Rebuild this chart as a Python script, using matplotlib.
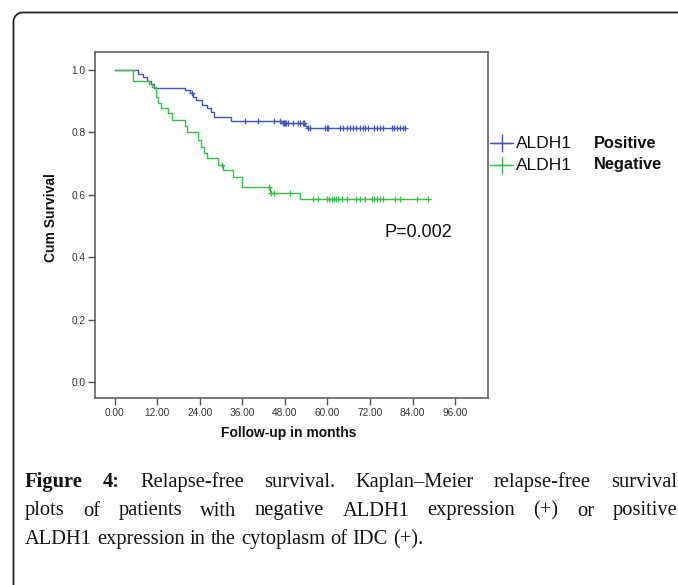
import numpy as np
import matplotlib
matplotlib.use("Agg")
import matplotlib.pyplot as plt
from matplotlib.lines import Line2D
from matplotlib.path import Path
from matplotlib.patches import PathPatch
from matplotlib.transforms import Affine2D

# ---------------- data ----------------
pos_times = [0, 6.5, 8.0, 9.0, 10.2, 11.0, 19.8, 21.2, 22.1, 23.0, 24.5, 25.9,
             27.0, 27.9, 32.7, 47.2, 53.6, 54.3]
pos_surv = [1.0, 0.989, 0.979, 0.966, 0.957, 0.944, 0.936, 0.925, 0.914, 0.904,
            0.888, 0.877, 0.866, 0.850, 0.838, 0.829, 0.821, 0.813]
pos_censor = [21.8, 36.7, 40.5, 44.9, 46.6, 47.5, 47.8, 48.1, 48.4, 48.9, 50.2,
              51.8, 52.2, 53.0, 53.4, 54.6, 55.1, 59.3, 59.8, 60.2, 63.5, 64.5,
              65.4, 66.3, 67.3, 68.0, 69.2, 70.1, 70.6, 71.5, 73.1, 73.9, 74.8,
              75.6, 78.1, 78.8, 79.5, 80.5, 81.4, 82.0]

neg_times = [0, 5.0, 9.7, 10.6, 11.5, 12.3, 13.0, 15.1, 16.2, 19.8, 20.4, 23.5,
             24.3, 25.2, 26.0, 29.2, 30.6, 33.4, 35.8, 43.9, 52.2]
neg_surv = [1.0, 0.966, 0.957, 0.946, 0.914, 0.896, 0.877, 0.861, 0.840, 0.821,
            0.802, 0.776, 0.754, 0.735, 0.717, 0.696, 0.679, 0.658, 0.626, 0.605,
            0.586]
neg_censor = [30.2, 43.6, 44.2, 44.8, 49.4, 55.8, 57.4, 59.8, 60.5, 61.2, 61.8,
              62.4, 63.1, 64.0, 65.4, 68.0, 69.2, 70.6, 72.5, 73.1, 73.9, 74.8,
              75.6, 79.1, 80.5, 85.2, 88.5]

x_ticks = [0, 12, 24, 36, 48, 60, 72, 84, 96]
y_ticks = [0.0, 0.2, 0.4, 0.6, 0.8, 1.0]
legend_groups = ["Positive", "Negative"]
p_text = "P=0.002"
caption_lines = [
    ["Figure", "4:", "Relapse-free", "survival.", "Kaplan\u2013Meier", "relapse-free", "survival"],
    ["plots", "of", "patients", "with", "negative", "ALDH1", "expression", "(+)", "or", "positive"],
    ["ALDH1", "expression", "in", "the", "cytoplasm", "of", "IDC", "(+)."],
]

BLUE = "#4656b6"
GREEN = "#3dbb4c"
SPINE = "#555555"

W, H = 678, 585
fig = plt.figure(figsize=(W / 100, H / 100), dpi=100)
fig.patch.set_facecolor("white")
px = Affine2D().scale(1 / W, 1 / H) + fig.transFigure  # pixel coords (origin bottom-left)

# outer rounded frame (top-left corner only visible)
r = 9
x0, y0 = 13.5, H - 12.5
k = 0.5523 * r
verts = [(x0, -10), (x0, y0 - r), (x0, y0 - r + k), (x0 + r - k, y0), (x0 + r, y0), (W + 10, y0)]
codes = [Path.MOVETO, Path.LINETO, Path.CURVE4, Path.CURVE4, Path.CURVE4, Path.LINETO]
fig.add_artist(PathPatch(Path(verts, codes), transform=px, fill=False,
                         edgecolor="#222222", linewidth=1.3))

# axes box: x 95-488, y 52-398 (pixels from top)
ax = fig.add_axes([95 / W, 1 - 398 / H, (488 - 95) / W, (398 - 52) / H])
ax.set_xlim(-5.6, 105.3)
ax.set_ylim(-0.051, 1.058)


def km_plot(times, surv, censor, color):
    t_end = max(max(censor), times[-1])
    tt = list(times) + [t_end]
    ss = list(surv) + [surv[-1]]
    ax.step(tt, ss, where="post", color=color, linewidth=1.0)
    idx = np.searchsorted(times, censor, side="right") - 1
    cy = np.array(surv)[idx]
    ax.plot(censor, cy, linestyle="none", marker="+", color=color,
            markersize=5, markeredgewidth=0.9)


km_plot(pos_times, pos_surv, pos_censor, BLUE)
km_plot(neg_times, neg_surv, neg_censor, GREEN)

for s in ax.spines.values():
    s.set_color(SPINE)
    s.set_linewidth(1.1)
ax.set_xticks(x_ticks)
ax.set_xticklabels([f"{v:.2f}" for v in x_ticks])
ax.set_yticks(y_ticks)
ax.set_yticklabels([f"{v:.1f}" for v in y_ticks])
ax.tick_params(axis="both", colors=SPINE, labelcolor="#333333", labelsize=7.3,
               length=5, width=1.0, direction="out", pad=2)
for lab in ax.get_xticklabels() + ax.get_yticklabels():
    lab.set_family("Liberation Sans")

fig.text(289 / W, 1 - 433 / H, "Follow-up in months", ha="center", va="center",
         fontsize=10, fontweight="bold", family="Liberation Sans", color="#111111")
fig.text(51 / W, 1 - 218 / H, "Cum Survival", ha="center", va="center",
         rotation=90, fontsize=10, fontweight="bold", family="Liberation Sans",
         color="#111111")

# P value
fig.text(385 / W, 1 - 233 / H, p_text, ha="left", va="center", fontsize=13,
         family="Liberation Sans", color="#111111")

# legend (outside the plot at right)
for i, (grp, col) in enumerate(zip(legend_groups, [BLUE, GREEN])):
    yy = 1 - (143 + 22 * i) / H
    fig.add_artist(Line2D([490 / W, 513 / W], [yy, yy], transform=fig.transFigure,
                          color=col, linewidth=1.0))
    fig.add_artist(Line2D([502 / W], [yy], transform=fig.transFigure, color=col,
                          marker="+", markersize=13, markeredgewidth=1.0,
                          linestyle="none"))
    fig.text(516 / W, yy, "ALDH1", ha="left", va="center", fontsize=12.5,
             family="Liberation Sans", color="#111111")
    fig.text(594 / W, yy, grp, ha="left", va="center", fontsize=11.8,
             fontweight="bold", family="Liberation Sans", color="#111111")

# caption, justified
fig.canvas.draw()
renderer = fig.canvas.get_renderer()
cap_left, cap_right = 25, 677
baselines = [487, 515.5, 544]
cap_size = 14.8
for li, words in enumerate(caption_lines):
    texts = []
    for wi, w in enumerate(words):
        bold = (li == 0 and wi < 2)
        t = fig.text(0, 0, w, transform=px, fontsize=cap_size,
                     family="Liberation Serif",
                     fontweight="bold" if bold else "normal",
                     ha="left", va="baseline", color="#111111")
        texts.append(t)
    widths = [t.get_window_extent(renderer).width for t in texts]
    total = sum(widths)
    if li < len(caption_lines) - 1:
        gap = (cap_right - cap_left - total) / (len(words) - 1)
    else:
        sp = fig.text(0, 0, "a a", transform=px, fontsize=cap_size,
                      family="Liberation Serif")
        spa = fig.text(0, 0, "aa", transform=px, fontsize=cap_size,
                       family="Liberation Serif")
        gap = sp.get_window_extent(renderer).width - spa.get_window_extent(renderer).width
        sp.remove(); spa.remove()
    xcur = cap_left
    for t, wdt in zip(texts, widths):
        t.set_position((xcur, H - baselines[li]))
        xcur += wdt + gap

fig.savefig("out.png", dpi=100, facecolor="white")
